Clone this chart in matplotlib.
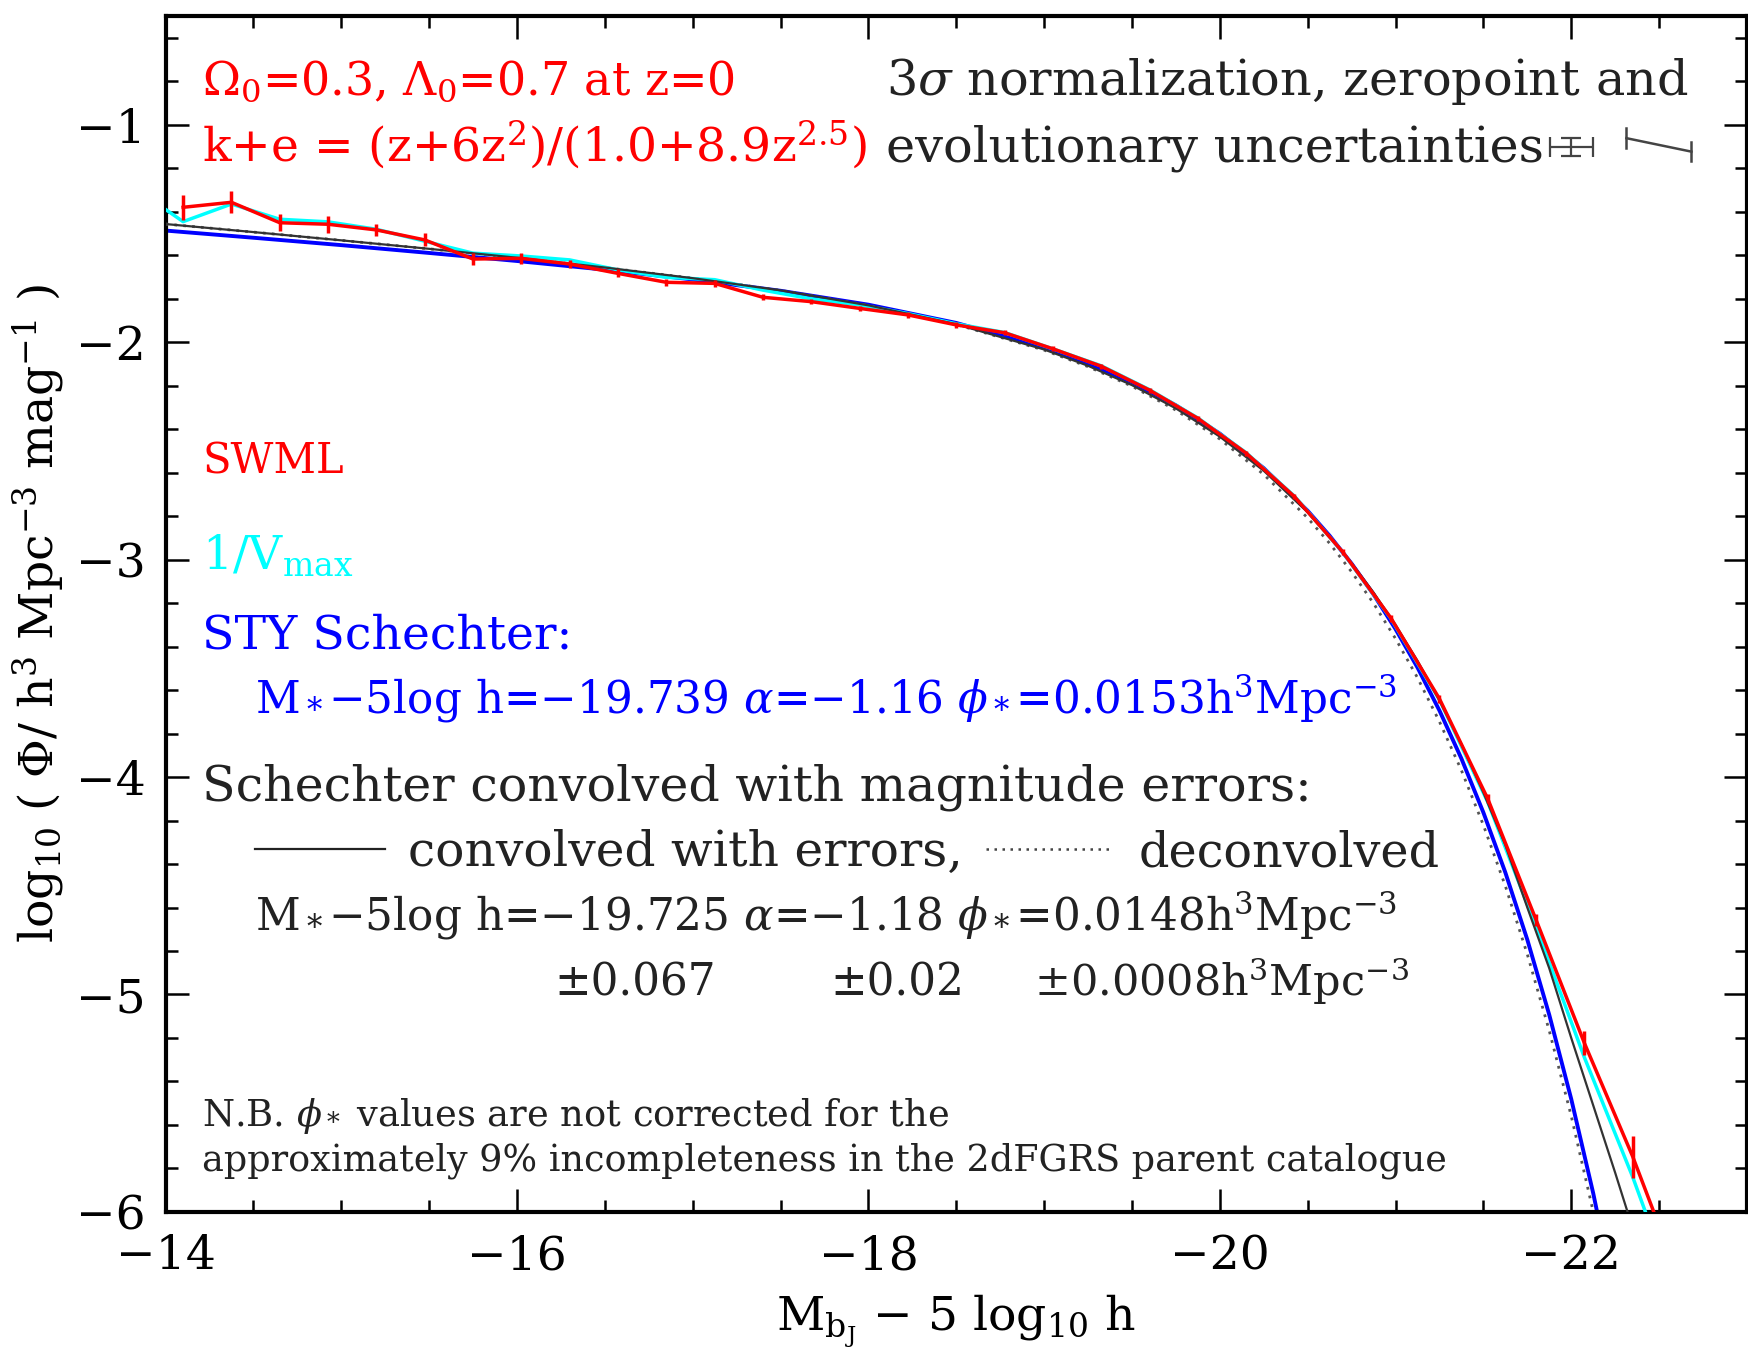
import matplotlib
matplotlib.use("Agg")
import matplotlib.pyplot as plt
from matplotlib.ticker import MultipleLocator

plt.rcParams['font.family'] = ['DejaVu Serif']
plt.rcParams['mathtext.fontset'] = 'dejavuserif'
plt.rcParams['axes.unicode_minus'] = True

# ---------------- data ----------------
# SWML estimate (red) : bin centres, log10 phi, 1-sigma errors
swml_M = [-14.1, -14.375, -14.65, -14.925, -15.2, -15.475, -15.75, -16.025,
          -16.3, -16.575, -16.85, -17.125, -17.4, -17.675, -17.95, -18.225,
          -18.5, -18.775, -19.05, -19.325, -19.6, -19.875, -20.15, -20.425,
          -20.7, -20.975, -21.25, -21.525, -21.8, -22.075, -22.35, -22.625]
swml_logphi = [-1.379, -1.356, -1.450, -1.457, -1.483, -1.529, -1.617, -1.614,
               -1.640, -1.683, -1.724, -1.729, -1.793, -1.813, -1.844, -1.874,
               -1.920, -1.956, -2.030, -2.110, -2.220, -2.350, -2.510, -2.710,
               -2.965, -3.270, -3.640, -4.100, -4.657, -5.224, -5.746, -6.330]
swml_err = [0.058, 0.050, 0.040, 0.038, 0.028, 0.030, 0.027, 0.025,
            0.020, 0.018, 0.016, 0.015, 0.014, 0.013, 0.012, 0.012,
            0.012, 0.012, 0.012, 0.012, 0.012, 0.012, 0.012, 0.012,
            0.013, 0.015, 0.018, 0.020, 0.027, 0.054, 0.097, 0.200]

# 1/Vmax estimate (cyan)
vmax_M = [-13.825, -14.1, -14.375, -14.65, -14.925, -15.2, -15.475, -15.75,
          -16.025, -16.3, -16.575, -16.85, -17.125, -17.4, -17.675, -17.95,
          -18.225, -18.5, -18.775, -19.05, -19.325, -19.6, -19.875, -20.15,
          -20.425, -20.7, -20.975, -21.25, -21.525, -21.8, -22.075, -22.35,
          -22.625]
vmax_logphi = [-1.290, -1.445, -1.364, -1.434, -1.446, -1.480, -1.535, -1.590,
               -1.603, -1.621, -1.667, -1.701, -1.712, -1.760, -1.800, -1.828,
               -1.868, -1.915, -1.955, -2.030, -2.108, -2.218, -2.348, -2.508,
               -2.708, -2.966, -3.272, -3.645, -4.115, -4.690, -5.290, -5.840,
               -6.450]

# STY Schechter fit (blue)
sty_M = [-14.0, -14.5, -15.0, -15.5, -16.0, -16.5, -17.0, -17.5, -18.0, -18.5,
         -19.0, -19.25, -19.5, -19.75, -20.0, -20.25, -20.5, -20.625, -20.75,
         -20.875, -21.0, -21.125, -21.25, -21.375, -21.5, -21.625, -21.75,
         -21.875, -22.0, -22.125, -22.25]
sty_logphi = [-1.486, -1.519, -1.553, -1.589, -1.626, -1.666, -1.711, -1.763,
              -1.827, -1.911, -2.024, -2.097, -2.184, -2.290, -2.420, -2.579,
              -2.775, -2.890, -3.018, -3.160, -3.319, -3.496, -3.694, -3.915,
              -4.163, -4.439, -4.748, -5.094, -5.481, -5.914, -6.399]

# Schechter deconvolved (dotted) and convolved with errors (solid)
sch_M = [-14.0, -14.5, -15.0, -15.5, -16.0, -16.5, -17.0, -17.5, -18.0, -18.5,
         -19.0, -19.25, -19.5, -19.75, -20.0, -20.25, -20.5, -20.625, -20.75,
         -20.875, -21.0, -21.125, -21.25, -21.375, -21.5, -21.625, -21.75,
         -21.875, -22.0, -22.125, -22.25, -22.375]
deconv_logphi = [-1.456, -1.493, -1.531, -1.570, -1.611, -1.656, -1.705, -1.761,
                 -1.830, -1.918, -2.036, -2.112, -2.202, -2.312, -2.445, -2.608,
                 -2.808, -2.925, -3.056, -3.201, -3.363, -3.543, -3.745, -3.969,
                 -4.221, -4.501, -4.815, -5.167, -5.559, -5.999, -6.491, -7.043]
conv_logphi = [-1.456, -1.493, -1.531, -1.570, -1.611, -1.656, -1.705, -1.761,
               -1.830, -1.917, -2.033, -2.108, -2.197, -2.304, -2.434, -2.591,
               -2.782, -2.893, -3.016, -3.151, -3.301, -3.465, -3.648, -3.849,
               -4.071, -4.313, -4.600, -4.880, -5.200, -5.510, -5.820, -6.140]

# 3-sigma uncertainty symbols (top right)
norm_centre = (-22.0, -1.100)
norm_xerr = 0.122
norm_yerr = 0.042
evol_M = [-22.314, -22.684]
evol_logphi = [-1.061, -1.123]
evol_cap = 0.045

# ---------------- figure ----------------
fig = plt.figure(figsize=(17.48, 13.51), dpi=100)
ax = fig.add_axes([0.0947, 0.1030, 0.9047, 0.885])

ax.plot(sty_M, sty_logphi, color='#0000ff', lw=2.8, zorder=2)
ax.plot(sch_M, deconv_logphi, color='#555555', lw=2.0, ls=(0, (1, 2.2)), zorder=3)
ax.plot(vmax_M, vmax_logphi, color='#00ffff', lw=2.5, zorder=4)
ax.plot(sch_M, conv_logphi, color='#333333', lw=1.6, zorder=5)
ax.errorbar(swml_M, swml_logphi, yerr=swml_err, color='#ff0000', lw=2.5,
            elinewidth=2.5, capsize=0, zorder=6)

# uncertainty symbols
ax.errorbar([norm_centre[0]], [norm_centre[1]], xerr=norm_xerr, yerr=norm_yerr,
            color='#444444', lw=1.6, capsize=7, capthick=1.6, zorder=6)
ax.plot(evol_M, evol_logphi, color='#444444', lw=1.8, zorder=6)
for m, p in zip(evol_M, evol_logphi):
    ax.plot([m, m], [p - evol_cap, p + evol_cap], color='#444444', lw=1.8, zorder=6)

ax.set_xlim(-14, -23)
ax.set_ylim(-6, -0.5)
ax.xaxis.set_major_locator(MultipleLocator(2))
ax.xaxis.set_minor_locator(MultipleLocator(0.5))
ax.yaxis.set_major_locator(MultipleLocator(1))
ax.yaxis.set_minor_locator(MultipleLocator(0.2))
ax.tick_params(which='both', direction='in', top=True, right=True, width=1.8,
               labelsize=34, colors='black')
ax.tick_params(which='major', length=16.5)
ax.tick_params(which='minor', length=8.3)
ax.tick_params(axis='x', pad=16)
ax.tick_params(axis='y', pad=14)
for s in ax.spines.values():
    s.set_linewidth(3)

ink = '#222222'
tr = ax.transAxes
ax.text(0.0232, 0.9343, r'$\Omega_0$=0.3, $\Lambda_0$=0.7 at z=0', color='red',
        fontsize=33, transform=tr, va='baseline')
ax.text(0.0232, 0.8784, r'k+e = (z+6z$^2$)/(1.0+8.9z$^{2.5}$)', color='red',
        fontsize=34, transform=tr, va='baseline')
ax.text(0.4556, 0.9343, r'3$\sigma$ normalization, zeropoint and', color=ink,
        fontsize=35.5, transform=tr, va='baseline')
ax.text(0.4556, 0.8784, 'evolutionary uncertainties', color=ink,
        fontsize=35.5, transform=tr, va='baseline')
ax.text(0.0232, 0.6173, 'SWML', color='red', fontsize=30, transform=tr,
        va='baseline')
ax.text(0.0232, 0.5380, r'1/V$_{\rm max}$', color='#00ffff', fontsize=34,
        transform=tr, va='baseline')
ax.text(0.0232, 0.4709, 'STY Schechter:', color='blue', fontsize=34,
        transform=tr, va='baseline')
ax.text(0.0563, 0.4167,
        r'M$_*$−5log h=−19.739 $\alpha$=−1.16 $\phi_*$=0.0153h$^3$Mpc$^{-3}$',
        color='blue', fontsize=31.5, transform=tr, va='baseline')
ax.text(0.0232, 0.3440, 'Schechter convolved with magnitude errors:',
        color=ink, fontsize=35.3, transform=tr, va='baseline')
ax.plot([0.0563, 0.1387], [0.3031, 0.3031], color=ink, lw=1.6, transform=tr)
ax.text(0.1534, 0.2891, 'convolved with errors,', color=ink, fontsize=35,
        transform=tr, va='baseline')
ax.plot([0.519, 0.5986], [0.3031, 0.3031], color='#444444', lw=1.8,
        ls=(0, (1, 2.2)), transform=tr)
ax.text(0.6154, 0.2891, 'deconvolved', color=ink, fontsize=34.3,
        transform=tr, va='baseline')
ax.text(0.0563, 0.2349,
        r'M$_*$−5log h=−19.725 $\alpha$=−1.18 $\phi_*$=0.0148h$^3$Mpc$^{-3}$',
        color=ink, fontsize=31.5, transform=tr, va='baseline')
ax.text(0.2458, 0.1809, '±0.067', color=ink, fontsize=31.5, transform=tr,
        va='baseline')
ax.text(0.4203, 0.1809, '±0.02', color=ink, fontsize=31.5, transform=tr,
        va='baseline')
ax.text(0.5492, 0.1809, r'±0.0008h$^3$Mpc$^{-3}$', color=ink, fontsize=31,
        transform=tr, va='baseline')
ax.text(0.0232, 0.0718, r'N.B. $\phi_*$ values are not corrected for the',
        color=ink, fontsize=26.5, transform=tr, va='baseline')
ax.text(0.0232, 0.0345,
        'approximately 9% incompleteness in the 2dFGRS parent catalogue',
        color=ink, fontsize=26.3, transform=tr, va='baseline')

fig.text(0.547, 0.022, r'M$_{\rm b_J}$ − 5 log$_{10}$ h', fontsize=34,
         ha='center', va='center')
fig.text(0.0223, 0.546, r'log$_{10}$ ( $\Phi$/ h$^3$ Mpc$^{-3}$ mag$^{-1}$ )',
         fontsize=34, rotation=90, ha='center', va='center')

fig.savefig('out.png', dpi=100)
